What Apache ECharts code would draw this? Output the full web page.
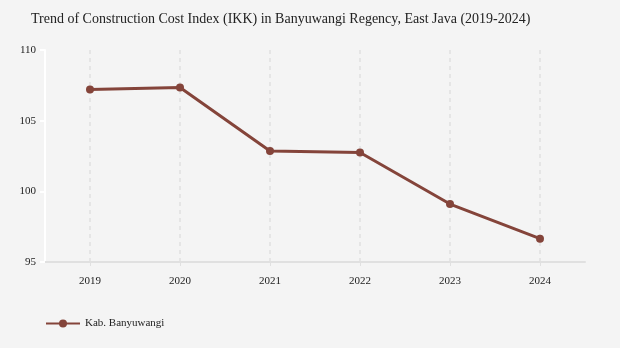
<!DOCTYPE html>
<html><head><meta charset="utf-8">
<script src="https://cdn.jsdelivr.net/npm/echarts@6/dist/echarts.min.js"></script>
<style>html,body{margin:0;padding:0;background:#f4f4f4}#c{width:620px;height:348px}</style>
</head><body><div id="c"></div>
<script>
var categories = ['2019','2020','2021','2022','2023','2024'];
var seriesName = 'Kab. Banyuwangi';
var values = [107.2, 107.35, 102.85, 102.75, 99.1, 96.65];
var yTicks = [95, 100, 105, 110];

var chart = echarts.init(document.getElementById('c'));
var font = 'Liberation Serif';
chart.setOption({
  backgroundColor: '#f4f4f4',
  animation: false,
  title: {
    text: 'Trend of Construction Cost Index (IKK) in Banyuwangi Regency, East Java (2019-2024)',
    left: 26, top: 7,
    textStyle: {fontFamily: font, fontSize: 14, fontWeight: 'normal', color: '#222'}
  },
  legend: {
    left: 40, top: 313, itemWidth: 34, itemHeight: 10, itemGap: 8,
    textStyle: {fontFamily: font, fontSize: 11, color: '#222'},
    data: [seriesName]
  },
  grid: {left: 45, right: 35, top: 50, bottom: 86},
  xAxis: {
    type: 'category', data: categories, boundaryGap: true,
    axisLine: {lineStyle: {color: '#e0e0e0', width: 2}},
    axisTick: {show: true, alignWithLabel: true, length: 6, lineStyle: {color: '#e0e0e0', type: 'dashed'}},
    axisLabel: {fontFamily: font, fontSize: 11, color: '#222', margin: 14},
    splitLine: {show: true, alignWithLabel: true, lineStyle: {color: '#e0e0e0', type: [4, 4], width: 1.5}}
  },
  yAxis: {
    type: 'value', min: yTicks[0], max: yTicks[yTicks.length-1], interval: 5,
    axisLine: {show: true, lineStyle: {color: '#ffffff', width: 2}},
    axisTick: {show: true, length: 5, lineStyle: {color: '#ffffff', width: 2}},
    axisLabel: {fontFamily: font, fontSize: 11, color: '#222', margin: 9},
    splitLine: {show: false}
  },
  series: [{
    name: seriesName, type: 'line', data: values,
    symbol: 'circle', symbolSize: 8,
    lineStyle: {color: '#84443a', width: 3},
    itemStyle: {color: '#84443a'}
  }]
});
</script></body></html>
